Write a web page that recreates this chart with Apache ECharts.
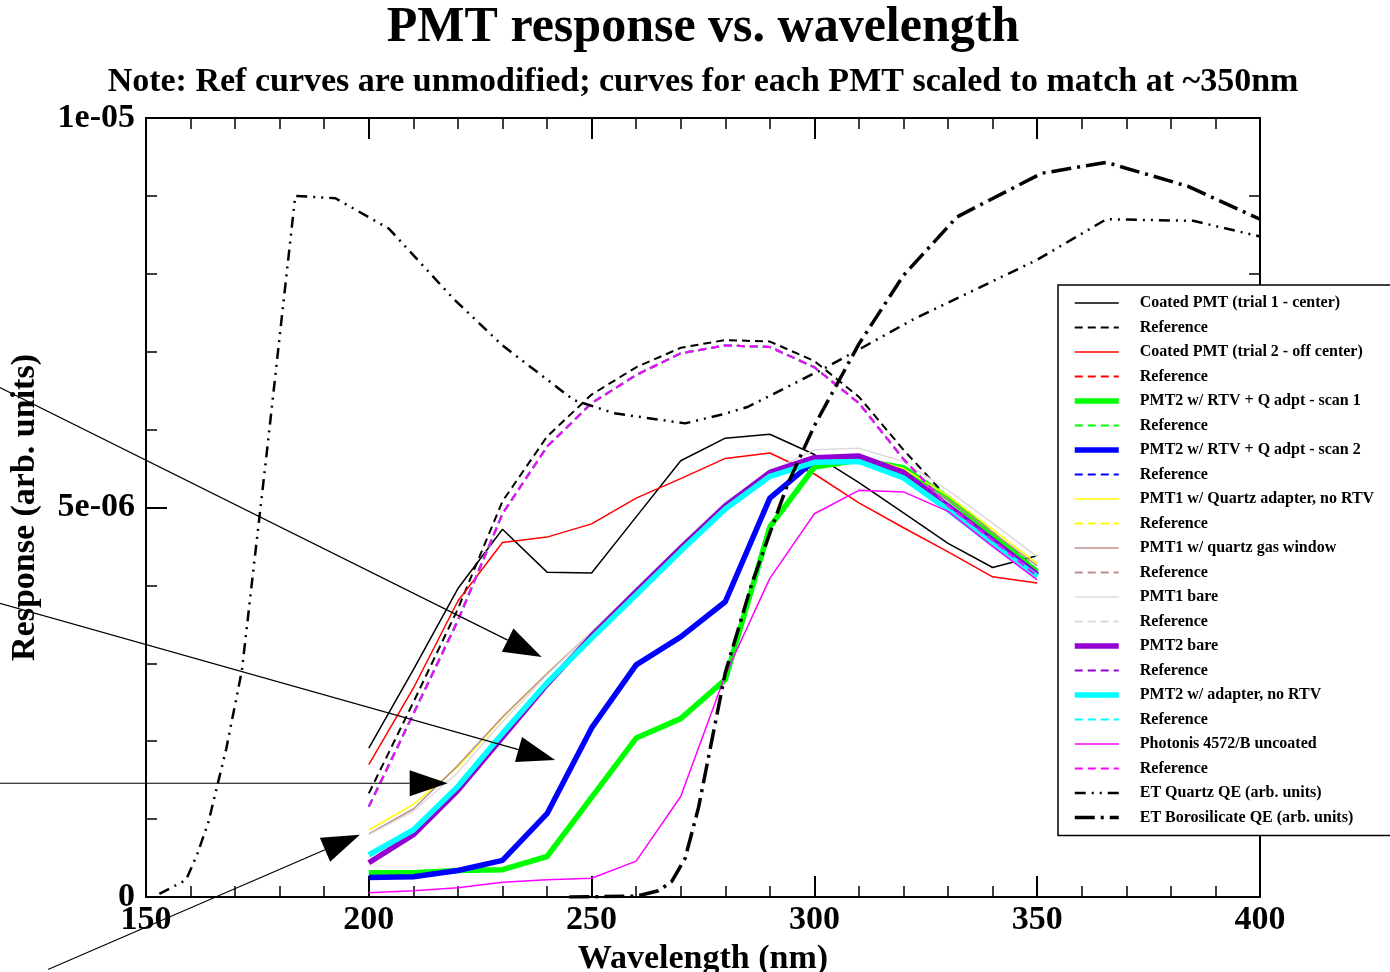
<!DOCTYPE html>
<html><head><meta charset="utf-8">
<script src="https://cdn.jsdelivr.net/npm/echarts@6/dist/echarts.min.js"></script>
<style>html,body{margin:0;padding:0;background:#fff}#c{width:1390px;height:972px}</style>
</head><body><div id="c"></div>
<script>
// ---- data (response in units of 1e-6) ----
const wavelengths = [200,210,220,230,240,250,260,270,280,290,300,310,320,330,340,350];
const coated1   = [1.91,2.92,3.96,4.72,4.17,4.16,4.88,5.60,5.89,5.94,5.68,5.32,4.93,4.54,4.23,4.38];
const coated2   = [1.70,2.68,3.80,4.55,4.62,4.79,5.12,5.37,5.63,5.70,5.43,5.06,4.74,4.43,4.11,4.03];
const scan1     = [0.31,0.31,0.34,0.35,0.52,1.28,2.04,2.29,2.79,4.75,5.52,5.61,5.51,5.12,4.65,4.17];
const scan2     = [0.25,0.26,0.34,0.47,1.07,2.17,2.98,3.34,3.79,5.12,5.60,5.65,5.44,5.00,4.57,4.13];
const quartzAdp = [0.86,1.19,1.67,2.30,2.87,3.40,3.95,4.50,5.03,5.44,5.62,5.66,5.50,5.15,4.72,4.28];
const gasWindow = [0.81,1.13,1.69,2.31,2.87,3.40,3.95,4.50,5.03,5.44,5.60,5.63,5.45,5.10,4.68,4.25];
const pmt1Bare  = [0.80,1.10,1.60,2.25,2.85,3.40,3.96,4.52,5.07,5.46,5.74,5.76,5.59,5.22,4.80,4.37];
const pmt2Bare  = [0.44,0.80,1.37,2.05,2.73,3.35,3.92,4.48,5.02,5.45,5.64,5.66,5.45,5.02,4.58,4.14];
const adapter   = [0.54,0.86,1.42,2.10,2.75,3.32,3.88,4.44,4.98,5.40,5.58,5.59,5.38,4.97,4.53,4.11];
const photonis  = [0.055,0.08,0.12,0.19,0.22,0.24,0.46,1.29,2.85,4.09,4.92,5.22,5.20,4.95,4.50,4.07];
const refBlack  = [1.33,2.50,3.70,5.08,5.91,6.45,6.80,7.05,7.15,7.13,6.88,6.42,5.74,5.12,4.68,4.20];
const refOther  = [1.16,2.35,3.55,4.92,5.78,6.34,6.70,6.98,7.08,7.06,6.80,6.34,5.62,5.02,4.58,4.12];

const quartzWl  = [153,159,161.5,164,168,171.5,177,183.5,192.5,204.5,219,230,246,255,271,279,285,303,311,322,350,365.5,385,400];
const quartzQE  = [0.04,0.22,0.55,0.96,1.90,2.90,5.65,9.00,8.97,8.58,7.68,7.08,6.38,6.21,6.08,6.19,6.29,6.81,7.06,7.41,8.18,8.70,8.68,8.48];
const boroWl    = [245,260,265,268,271,274,280,286,290,294,300,310,320,332,351,365.5,384,400];
const boroQE    = [0.00,0.01,0.08,0.20,0.50,1.15,2.88,4.03,4.67,5.30,6.05,7.10,7.98,8.73,9.29,9.43,9.12,8.70];

const xTickValues = [150,200,250,300,350,400];
const yTickLabels = ['0','5e-06','1e-05'];

// annotation arrows, in data coordinates [nm, 1e-6]
const arrowFrom = [[117.2,6.54],[117.2,3.77],[117.2,1.46],[128.0,-0.93]];
const arrowTo   = [[238.8,3.08],[241.8,1.76],[217.7,1.46],[198.0,0.80]];

// ---- chart ----
const F = '"Liberation Serif","Times New Roman",serif';
const chart = echarts.init(document.getElementById('c'), null, {renderer:'canvas'});
const pairs = (xs, ys) => xs.map((x, i) => [x, ys[i]]);
const ZW = '\u200b';
let refCount = 0;
function refName(){ refCount++; return 'Reference' + ZW.repeat(refCount); }

const defs = [
  {name:'Coated PMT (trial 1 - center)', data:pairs(wavelengths,coated1), color:'#000000', w:1.5},
  {name:refName(), data:pairs(wavelengths,refBlack), color:'#000000', w:2, dash:[8,5]},
  {name:'Coated PMT (trial 2 - off center)', data:pairs(wavelengths,coated2), color:'#ff0000', w:1.5},
  {name:refName(), data:pairs(wavelengths,refOther), color:'#ff0000', w:2, dash:[8,5]},
  {name:'PMT2 w/ RTV + Q adpt - scan 1', data:pairs(wavelengths,scan1), color:'#00ff00', w:5.5},
  {name:refName(), data:pairs(wavelengths,refOther), color:'#00ff00', w:2, dash:[8,5]},
  {name:'PMT2 w/ RTV + Q adpt - scan 2', data:pairs(wavelengths,scan2), color:'#0000ff', w:5.5},
  {name:refName(), data:pairs(wavelengths,refOther), color:'#0000ff', w:2, dash:[8,5]},
  {name:'PMT1 w/ Quartz adapter, no RTV', data:pairs(wavelengths,quartzAdp), color:'#ffff00', w:1.5},
  {name:refName(), data:pairs(wavelengths,refOther), color:'#ffff00', w:2, dash:[8,5]},
  {name:'PMT1 w/ quartz gas window', data:pairs(wavelengths,gasWindow), color:'#bc8f8f', w:1.5},
  {name:refName(), data:pairs(wavelengths,refOther), color:'#bc8f8f', w:2, dash:[8,5]},
  {name:'PMT1 bare', data:pairs(wavelengths,pmt1Bare), color:'#dcdcdc', w:1.5},
  {name:refName(), data:pairs(wavelengths,refOther), color:'#dcdcdc', w:2, dash:[8,5]},
  {name:'PMT2 bare', data:pairs(wavelengths,pmt2Bare), color:'#9400d3', w:5.5},
  {name:refName(), data:pairs(wavelengths,refOther), color:'#9400d3', w:2, dash:[8,5]},
  {name:'PMT2 w/ adapter, no RTV', data:pairs(wavelengths,adapter), color:'#00ffff', w:5.5},
  {name:refName(), data:pairs(wavelengths,refOther), color:'#00ffff', w:2, dash:[8,5]},
  {name:'Photonis 4572/B uncoated', data:pairs(wavelengths,photonis), color:'#ff00ff', w:1.5},
  {name:refName(), data:pairs(wavelengths,refOther), color:'#ff00ff', w:2, dash:[8,5]},
  {name:'ET Quartz QE (arb. units)', data:pairs(quartzWl,quartzQE), color:'#000000', w:2.5, dash:[11,6,2,6,2,6]},
  {name:'ET Borosilicate QE (arb. units)', data:pairs(boroWl,boroQE), color:'#000000', w:3.5, dash:[20,6,3,6]}
];

const series = defs.map((d, i) => ({
  type:'line', name:d.name, data:d.data, symbol:'circle', showSymbol:false,
  smooth:false, animation:false, z: 2 + i * 0.01,
  lineStyle:{color:d.color, width:d.w, type:d.dash || 'solid'},
  itemStyle:{color:d.color}, emphasis:{disabled:true}
}));

const axisCommon = {
  axisLine:{show:true, onZero:false, lineStyle:{color:'#000', width:2}},
  splitLine:{show:false}
};

chart.setOption({
  animation:false,
  backgroundColor:'#ffffff',
  title:[
    {text:'PMT response vs. wavelength', left:703, top:3, padding:0, textAlign:'center',
     textStyle:{fontFamily:F, fontWeight:'bold', fontSize:50, color:'#000'}},
    {text:'Note: Ref curves are unmodified; curves for each PMT scaled to match at ~350nm',
     left:703, top:65, padding:0, textAlign:'center',
     textStyle:{fontFamily:F, fontWeight:'bold', fontSize:34, color:'#000'}}
  ],
  grid:{left:146, right:130, top:118, bottom:75, containLabel:false, outerBoundsMode:'none'},
  xAxis:[
    Object.assign({type:'value', position:'bottom', min:150, max:400, interval:50,
      name:'Wavelength (nm)', nameLocation:'middle', nameGap:42,
      nameTextStyle:{fontFamily:F, fontWeight:'bold', fontSize:34, color:'#000'},
      axisTick:{show:true, inside:true, length:21, lineStyle:{color:'#000', width:2}},
      minorTick:{show:true, splitNumber:5, length:11, lineStyle:{color:'#000', width:1.5}},
      axisLabel:{show:true, margin:6, fontFamily:F, fontWeight:'bold', fontSize:34, color:'#000',
        formatter:(v)=> xTickValues.indexOf(v) >= 0 ? String(v) : ''}}, axisCommon),
    Object.assign({type:'value', position:'top', min:150, max:400, interval:50,
      axisTick:{show:true, inside:true, length:21, lineStyle:{color:'#000', width:2}},
      minorTick:{show:true, splitNumber:5, length:11, lineStyle:{color:'#000', width:1.5}},
      axisLabel:{show:false}}, axisCommon)
  ],
  yAxis:[
    Object.assign({type:'value', position:'left', min:0, max:10, interval:5,
      name:'Response (arb. units)', nameLocation:'middle', nameGap:104,
      nameTextStyle:{fontFamily:F, fontWeight:'bold', fontSize:34, color:'#000'},
      axisTick:{show:true, inside:true, length:21, lineStyle:{color:'#000', width:2}},
      minorTick:{show:true, splitNumber:5, length:11, lineStyle:{color:'#000', width:1.5}},
      axisLabel:{show:true, margin:11, fontFamily:F, fontWeight:'bold', fontSize:34, color:'#000',
        formatter:(v)=> yTickLabels[Math.round(v/5)] || ''}}, axisCommon),
    Object.assign({type:'value', position:'right', min:0, max:10, interval:5,
      axisTick:{show:true, inside:true, length:21, lineStyle:{color:'#000', width:2}},
      minorTick:{show:true, splitNumber:5, length:11, lineStyle:{color:'#000', width:1.5}},
      axisLabel:{show:false}}, axisCommon)
  ],
  legend:{
    show:true, orient:'vertical', left:1058, top:285,
    padding:[10, 60, 10, 14],
    backgroundColor:'#ffffff', borderColor:'#000', borderWidth:1.5,
    itemWidth:44, itemHeight:14, itemGap:8.5,
    selectedMode:false,
    itemStyle:{opacity:0},
    textStyle:{fontFamily:F, fontWeight:'bold', fontSize:16, lineHeight:16, color:'#000', padding:[0,0,0,16]},
    formatter:(n)=> n.replace(/\u200b/g,''),
    data: defs.map(d => ({name:d.name, itemStyle:{opacity:0},
      lineStyle:{width:d.w, type:d.dash || 'solid', color:d.color}})),
    z:10
  },
  series: series
});

// annotation arrows
const elems = [];
arrowFrom.forEach((f, i) => {
  const p0 = chart.convertToPixel({gridIndex:0}, f);
  const p1 = chart.convertToPixel({gridIndex:0}, arrowTo[i]);
  const dx = p1[0]-p0[0], dy = p1[1]-p0[1];
  const L = Math.sqrt(dx*dx+dy*dy), ux = dx/L, uy = dy/L;
  const hl = 38, hw = 13;
  const bx = p1[0]-ux*hl, by = p1[1]-uy*hl;
  elems.push({type:'line', silent:true, z:20,
    shape:{x1:p0[0], y1:p0[1], x2:bx, y2:by}, style:{stroke:'#000', lineWidth:1.2}});
  elems.push({type:'polygon', silent:true, z:20,
    shape:{points:[[p1[0],p1[1]],[bx - uy*hw, by + ux*hw],[bx + uy*hw, by - ux*hw]]},
    style:{fill:'#000'}});
});
chart.setOption({graphic:elems});
</script>
</body></html>
